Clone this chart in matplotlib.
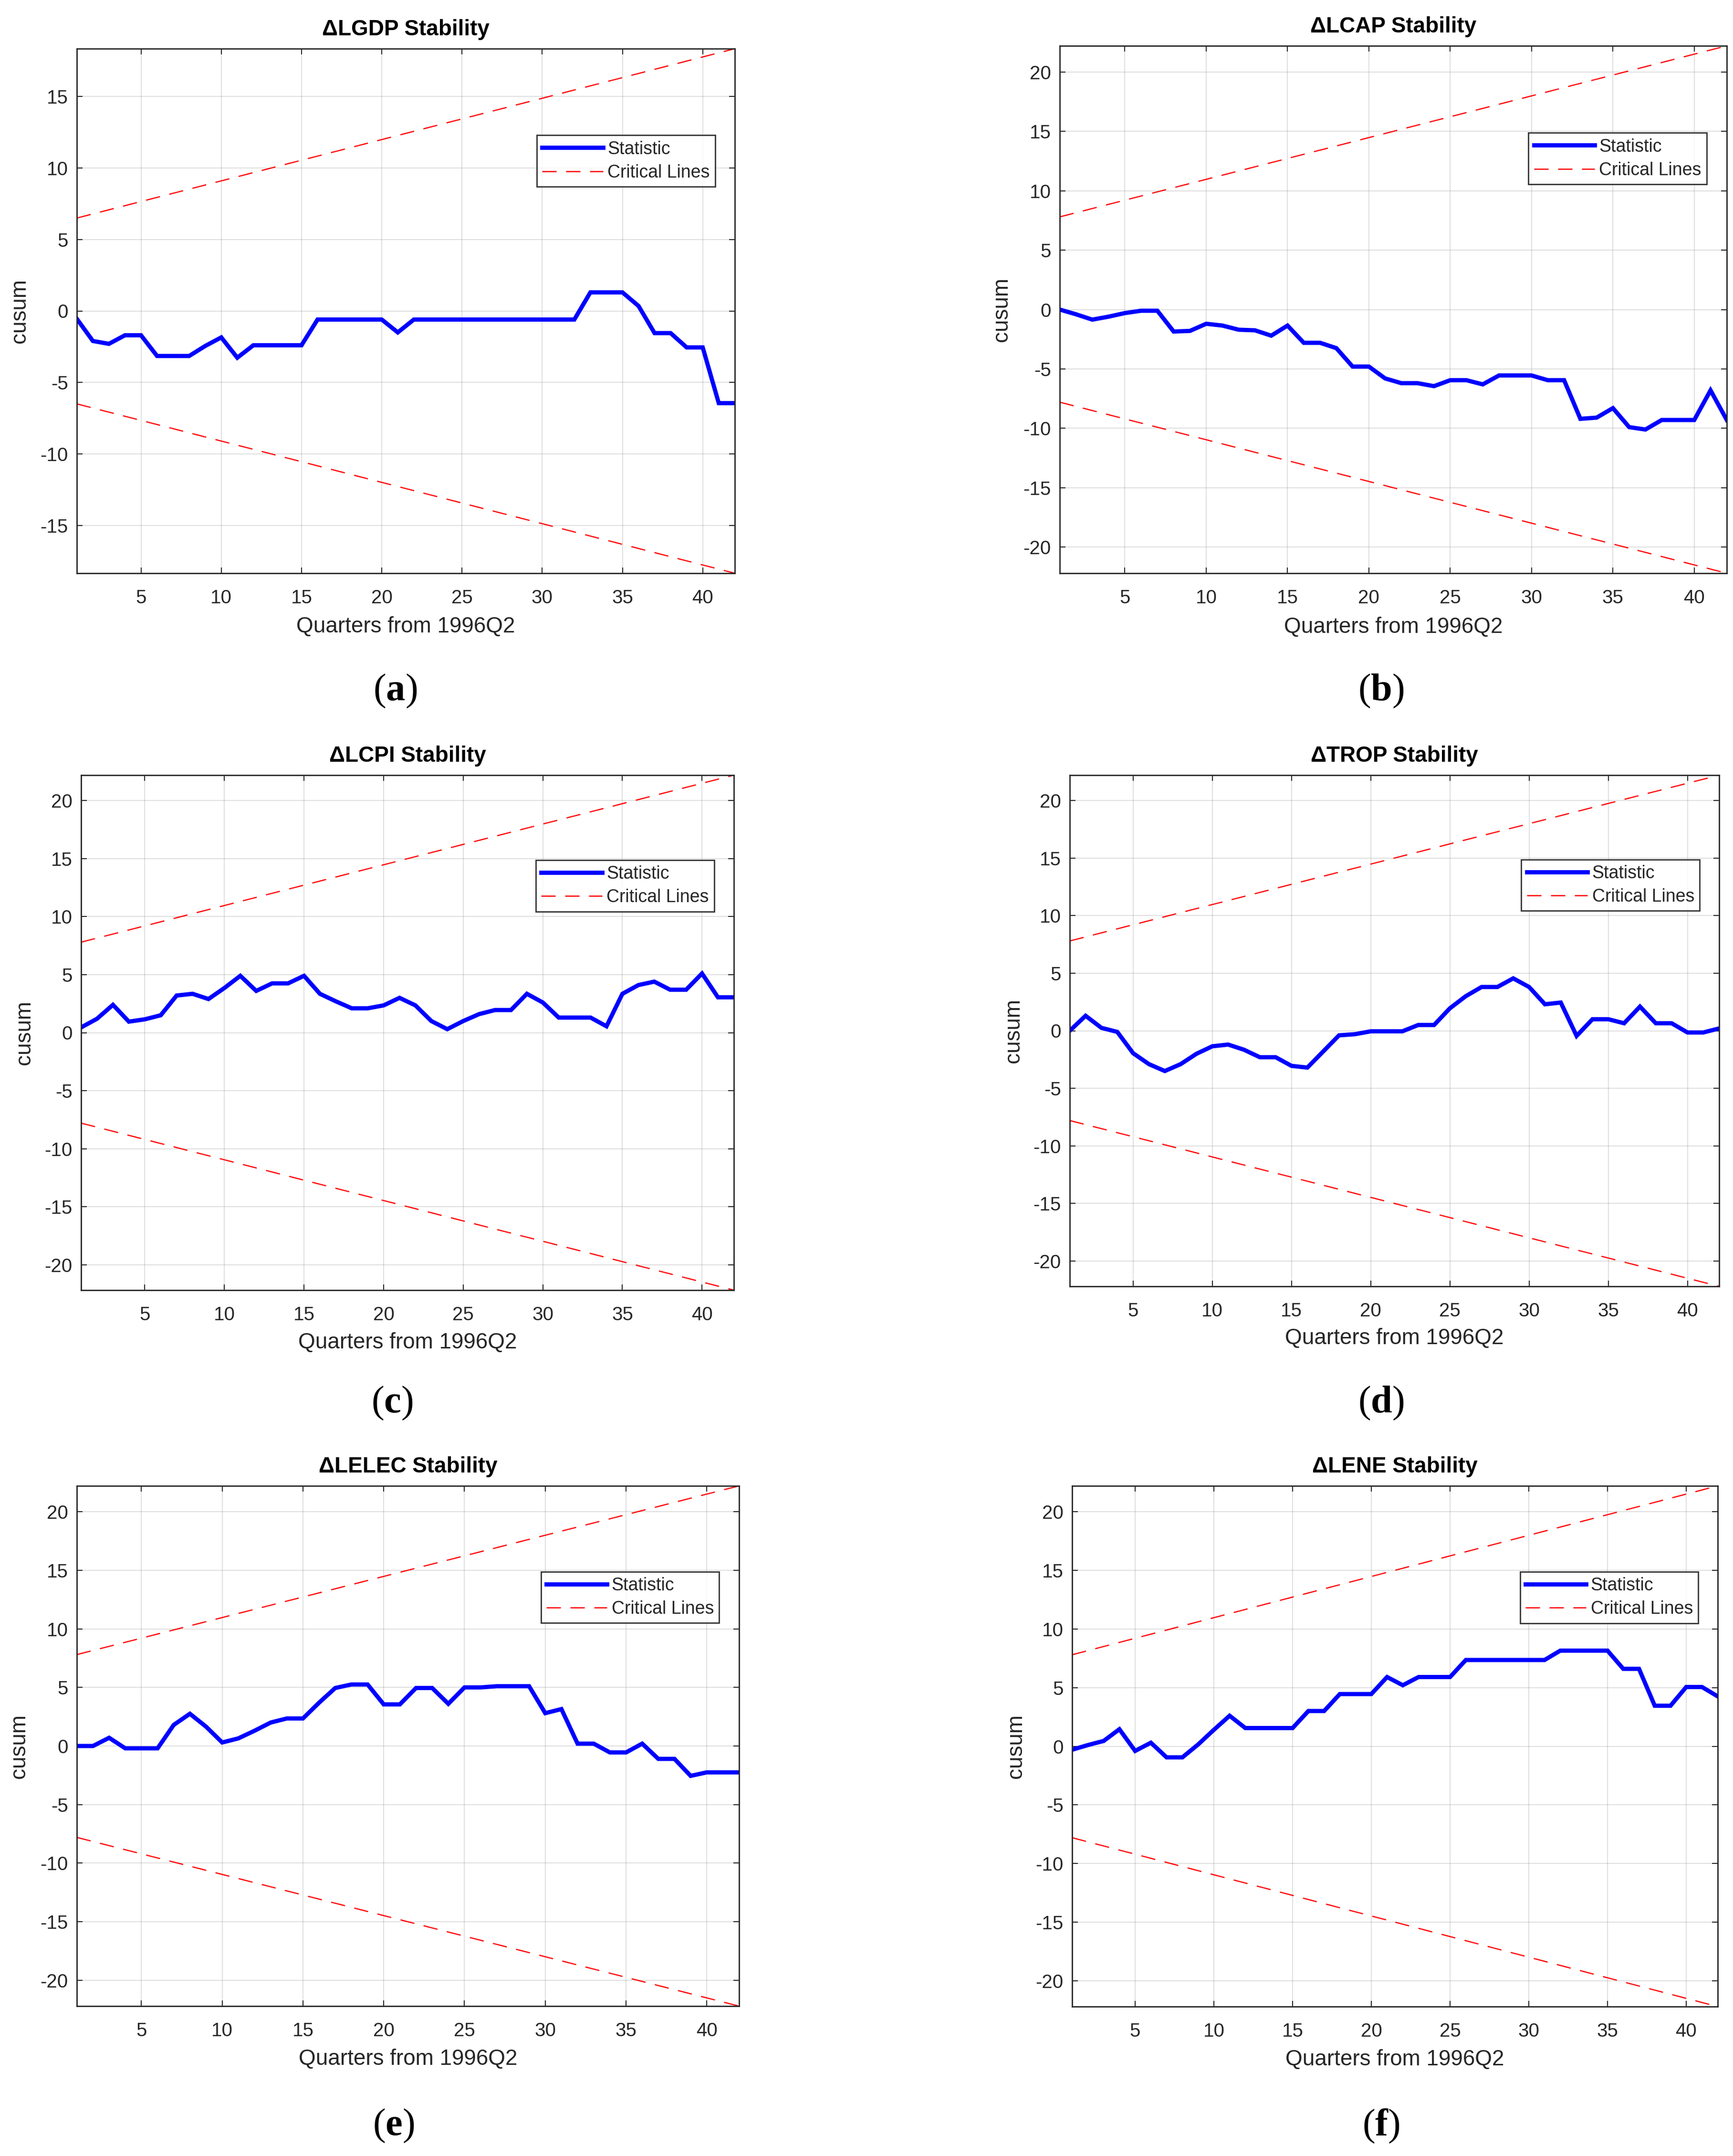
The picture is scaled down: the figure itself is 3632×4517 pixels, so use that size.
import matplotlib
matplotlib.use("Agg")
import matplotlib.pyplot as plt
import numpy as np

# -------------------------
# Data
# -------------------------
quarters = np.arange(1, 43)

lgdp_cusum = [-0.55, -2.1, -2.3, -1.7, -1.7, -3.15, -3.15, -3.15, -2.45, -1.85,
              -3.27, -2.4, -2.4, -2.4, -2.4, -0.6, -0.6, -0.6, -0.6, -0.6,
              -1.5, -0.6, -0.6, -0.6, -0.6, -0.6, -0.6, -0.6, -0.6, -0.6,
              -0.6, -0.6, 1.3, 1.3, 1.3, 0.35, -1.55, -1.55, -2.55, -2.55,
              -6.45, -6.45]

lcap_cusum = [0.0, -0.4, -0.85, -0.6, -0.3, -0.1, -0.1, -1.85, -1.8, -1.2,
              -1.35, -1.7, -1.75, -2.2, -1.35, -2.8, -2.8, -3.25, -4.8, -4.8,
              -5.8, -6.2, -6.2, -6.45, -5.95, -5.95, -6.3, -5.55, -5.55, -5.55,
              -5.95, -5.95, -9.2, -9.1, -8.3, -9.9, -10.1, -9.3, -9.3, -9.3,
              -6.8, -9.3]

lcpi_cusum = [0.45, 1.2, 2.4, 0.95, 1.15, 1.5, 3.2, 3.35, 2.9, 3.85,
              4.9, 3.6, 4.25, 4.25, 4.9, 3.35, 2.7, 2.1, 2.1, 2.35,
              3.0, 2.35, 1.0, 0.3, 1.0, 1.6, 1.95, 1.95, 3.35, 2.6,
              1.3, 1.3, 1.3, 0.55, 3.35, 4.1, 4.4, 3.7, 3.7, 5.1,
              3.05, 3.05]

trop_cusum = [0.0, 1.3, 0.25, -0.1, -1.95, -2.9, -3.5, -2.9, -2.0, -1.35,
              -1.2, -1.65, -2.3, -2.3, -3.05, -3.2, -1.8, -0.4, -0.3, -0.05,
              -0.05, -0.05, 0.5, 0.5, 1.95, 3.0, 3.8, 3.8, 4.55, 3.8,
              2.3, 2.45, -0.45, 1.0, 1.0, 0.65, 2.1, 0.65, 0.65, -0.15,
              -0.15, 0.2]

lelec_cusum = [0.0, 0.0, 0.7, -0.2, -0.2, -0.2, 1.8, 2.75, 1.65, 0.3,
               0.65, 1.3, 2.0, 2.35, 2.35, 3.7, 4.95, 5.25, 5.25, 3.55,
               3.55, 4.95, 4.95, 3.6, 5.0, 5.0, 5.1, 5.1, 5.1, 2.8,
               3.15, 0.2, 0.2, -0.55, -0.55, 0.2, -1.1, -1.1, -2.55, -2.25,
               -2.25, -2.25]

lene_cusum = [-0.3, 0.1, 0.45, 1.45, -0.4, 0.3, -0.95, -0.95, 0.15, 1.4,
              2.6, 1.55, 1.55, 1.55, 1.55, 3.0, 3.0, 4.45, 4.45, 4.45,
              5.9, 5.2, 5.9, 5.9, 5.9, 7.35, 7.35, 7.35, 7.35, 7.35,
              7.35, 8.15, 8.15, 8.15, 8.15, 6.6, 6.6, 3.45, 3.45, 5.05,
              5.05, 4.25]

# critical line value at first and last quarter (upper line, lower is mirrored)
crit_lgdp = [6.5, 18.35]
crit_other = [7.8, 22.2]

titles = ["\u0394LGDP Stability", "\u0394LCAP Stability", "\u0394LCPI Stability",
          "\u0394TROP Stability", "\u0394LELEC Stability", "\u0394LENE Stability"]
panel_letters = ["a", "b", "c", "d", "e", "f"]
series = [lgdp_cusum, lcap_cusum, lcpi_cusum, trop_cusum, lelec_cusum, lene_cusum]
crit_bounds = [crit_lgdp, crit_other, crit_other, crit_other, crit_other, crit_other]
x_ticks = [5, 10, 15, 20, 25, 30, 35, 40]
y_ticks_lgdp = [-15, -10, -5, 0, 5, 10, 15]
y_ticks_other = [-20, -15, -10, -5, 0, 5, 10, 15, 20]

# -------------------------
# Layout (pixels of the output image)
# -------------------------
FIG_W, FIG_H, DPI = 3632, 4517, 100

# left, top, right, bottom
AXES_PX = [
    (161, 102, 1540, 1201),
    (2221, 96, 3619, 1201),
    (170, 1624, 1538, 2703),
    (2242, 1624, 3603, 2695),
    (161, 3113, 1549, 4203),
    (2247, 3113, 3600, 4204),
]
LABEL_PX = [(828, 1448), (2894, 1448), (822, 2940), (2894, 2940), (825, 4454), (2894, 4454)]

plt.rcParams["font.family"] = ["Liberation Sans", "DejaVu Sans"]
plt.rcParams["axes.unicode_minus"] = False
plt.rcParams["mathtext.fontset"] = "custom"
plt.rcParams["mathtext.rm"] = "Liberation Serif"
plt.rcParams["mathtext.bf"] = "Liberation Serif:bold"

TEXT_GREY = (0.15, 0.15, 0.15)


def px_rect(left, top, right, bottom):
    return [left / FIG_W, 1 - bottom / FIG_H, (right - left) / FIG_W, (bottom - top) / FIG_H]


def draw_panel(fig, rect, values, bounds, title, yticks):
    ax = fig.add_axes(px_rect(*rect))

    upper = np.interp(quarters, [quarters[0], quarters[-1]], bounds)
    ax.plot(quarters, values, color=(0, 0, 1), lw=6.4, label="Statistic", solid_joinstyle="miter")
    ax.plot(quarters, upper, color=(1, 0, 0), lw=1.8, ls=(0, (12, 8)), label="Critical Lines")
    ax.plot(quarters, -upper, color=(1, 0, 0), lw=1.8, ls=(0, (12, 8)))

    ax.set_xlim(quarters[0], quarters[-1])
    ax.set_ylim(-bounds[1], bounds[1])
    ax.set_xticks(x_ticks)
    ax.set_yticks(yticks)

    ax.grid(True, color=(0.15, 0.15, 0.15), alpha=0.15, lw=1.4)
    ax.set_axisbelow(True)
    for sp in ax.spines.values():
        sp.set_linewidth(2.0)
        sp.set_color(TEXT_GREY)
    ax.tick_params(axis="both", direction="in", top=True, right=True, length=8.5, width=1.5,
                   colors=TEXT_GREY, labelsize=29)
    ax.tick_params(axis="x", pad=24)
    ax.tick_params(axis="y", pad=13)

    ax.set_title(title, fontsize=33, fontweight="bold", pad=20, color="black")
    ax.set_xlabel("Quarters from 1996Q2", fontsize=33, color=TEXT_GREY, va="center")
    ax.xaxis.set_label_coords(0.5, -0.102)
    ax.set_ylabel("cusum", fontsize=33, color=TEXT_GREY, va="center")
    ax.yaxis.set_label_coords(-0.087, 0.5)

    leg = ax.legend(loc="upper right", bbox_to_anchor=(0.97, 0.835), fontsize=27,
                    frameon=True, fancybox=False, edgecolor="black", handlelength=3.4,
                    handletextpad=0.25, borderpad=0.3, labelspacing=0.35, borderaxespad=0)
    leg.get_frame().set_linewidth(2.0)
    for txt in leg.get_texts():
        txt.set_color(TEXT_GREY)
    return ax


if __name__ == "__main__":
    fig = plt.figure(figsize=(FIG_W / DPI, FIG_H / DPI), dpi=DPI)

    for i in range(6):
        yticks = y_ticks_lgdp if i == 0 else y_ticks_other
        draw_panel(fig, AXES_PX[i], series[i], crit_bounds[i], titles[i], yticks)
        lx, ly = LABEL_PX[i]
        fig.text(lx / FIG_W, 1 - ly / FIG_H, "($\\mathbf{%s}$)" % panel_letters[i],
                 family="Liberation Serif", fontsize=58, ha="center", va="center")

    fig.savefig("out.png", dpi=DPI, facecolor="white")
